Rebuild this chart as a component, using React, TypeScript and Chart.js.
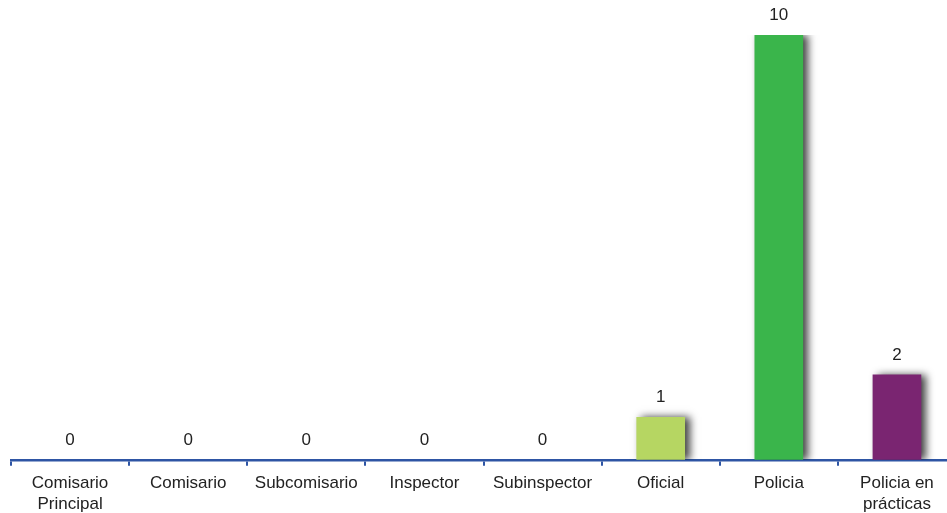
import React, { useEffect, useRef } from "react";
import { Chart, registerables } from "chart.js";

Chart.register(...registerables);

const categories: (string | string[])[] = [
  ["Comisario", "Principal"],
  "Comisario",
  "Subcomisario",
  "Inspector",
  "Subinspector",
  "Oficial",
  "Policia",
  ["Policia en", "prácticas"],
];
const values = [0, 0, 0, 0, 0, 1, 10, 2];
const barColors = [
  "#B6D662",
  "#B6D662",
  "#B6D662",
  "#B6D662",
  "#B6D662",
  "#B6D662",
  "#3AB54B",
  "#7A2571",
];

const FONT = "'Liberation Sans', Arial, Helvetica, sans-serif";

const shadowPlugin = {
  id: "barShadow",
  beforeDatasetsDraw(chart: any) {
    const ctx = chart.ctx;
    ctx.save();
    ctx.shadowColor = "rgba(0,0,0,0.75)";
    ctx.shadowBlur = 8;
    ctx.shadowOffsetX = 5;
    ctx.shadowOffsetY = 0;
  },
  afterDatasetsDraw(chart: any) {
    chart.ctx.restore();
  },
};

const valueLabelPlugin = {
  id: "valueLabels",
  afterDraw(chart: any) {
    const ctx = chart.ctx;
    const meta = chart.getDatasetMeta(0);
    ctx.save();
    ctx.fillStyle = "#222";
    ctx.font = `17px ${FONT}`;
    ctx.textAlign = "center";
    ctx.textBaseline = "middle";
    meta.data.forEach((bar: any, i: number) => {
      ctx.fillText(String(values[i]), bar.x, bar.y - 20);
    });
    ctx.restore();
  },
};

export default function App() {
  const ref = useRef<HTMLCanvasElement | null>(null);
  useEffect(() => {
    if (!ref.current) return;
    const chart = new Chart(ref.current, {
      type: "bar",
      data: {
        labels: categories,
        datasets: [
          {
            data: values,
            backgroundColor: barColors.map((c, i) => (values[i] === 0 ? "rgba(0,0,0,0)" : c)),
            borderWidth: 0,
            barThickness: 48,
          },
        ],
      },
      options: {
        animation: false,
        responsive: false,
        maintainAspectRatio: false,
        layout: { padding: { left: 11, right: 4, top: 35, bottom: 0 } },
        plugins: { legend: { display: false }, tooltip: { enabled: false } },
        scales: {
          x: {
            offset: true,
            border: { display: true, color: "#2E55A4", width: 2.5 },
            grid: {
              display: true,
              offset: true,
              drawOnChartArea: false,
              drawTicks: true,
              tickLength: 6,
              color: "#2E55A4",
              lineWidth: 2,
            },
            ticks: {
              color: "#222",
              padding: 7,
              maxRotation: 0,
              autoSkip: false,
              font: { family: FONT, size: 17, lineHeight: 1.24 },
            },
          },
          y: {
            display: false,
            min: 0,
            max: 10,
          },
        },
      },
      plugins: [shadowPlugin, valueLabelPlugin],
    });
    return () => chart.destroy();
  }, []);
  return (
    <div
      style={{
        position: "absolute",
        left: 0,
        top: 0,
        width: 947,
        height: 513,
        overflow: "hidden",
        background: "#fff",
      }}
    >
      <canvas ref={ref} width={960} height={522} style={{ width: 960, height: 522, display: "block" }} />
    </div>
  );
}
